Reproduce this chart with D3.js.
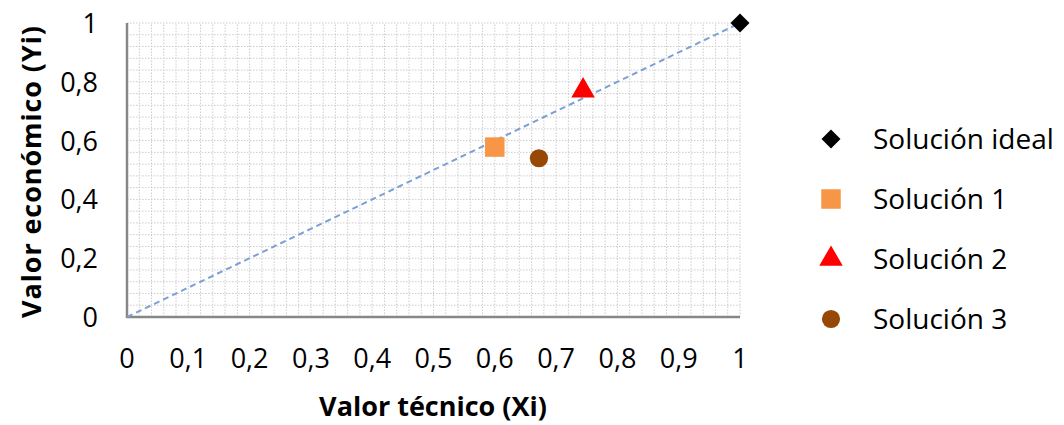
<!DOCTYPE html>
<html>
<head>
<meta charset="utf-8">
<script src="https://cdn.jsdelivr.net/npm/d3@7"></script>
<style>
  body { margin: 0; background: #fff; }
  svg { display: block; font-family: "Open Sans", sans-serif; }
</style>
</head>
<body>
<script>
// data
const series = ["Solución ideal", "Solución 1", "Solución 2", "Solución 3"];
const xValues = [1, 0.6, 0.744, 0.672];
const yValues = [1, 0.578, 0.77, 0.54];
const colors = ["#000000", "#F79646", "#FF0000", "#974706"];
const shapes = [d3.symbolSquare, d3.symbolSquare, d3.symbolTriangle, d3.symbolCircle];
const xTicks = [0, 0.1, 0.2, 0.3, 0.4, 0.5, 0.6, 0.7, 0.8, 0.9, 1];
const yTicks = [0, 0.2, 0.4, 0.6, 0.8, 1];
const lineX = [0, 1];
const lineY = [0, 1];

const W = 1064, H = 425;
const svg = d3.select("body").append("svg").attr("width", W).attr("height", H);

const x = d3.scaleLinear().domain([0, 1]).range([127, 740]);
const y = d3.scaleLinear().domain([0, 1]).range([317, 23]);

const loc = d3.formatLocale({decimal: ",", thousands: ".", grouping: [3], currency: ["", "€"]});
const fmt = d => loc.format("~g")(d);

/* grid (minor cells) */
const gx = d3.range(0, 1.0001, 0.02);
const gy = d3.range(0, 1.0001, 0.04);
svg.append("g").selectAll("line").data(gx).enter().append("line")
  .attr("x1", d => x(d)).attr("x2", d => x(d)).attr("y1", y(0)).attr("y2", y(1))
  .attr("stroke", "#cccccc").attr("stroke-width", 1).attr("stroke-dasharray", "1.5,1.5");
svg.append("g").selectAll("line").data(gy).enter().append("line")
  .attr("y1", d => y(d)).attr("y2", d => y(d)).attr("x1", x(0)).attr("x2", x(1))
  .attr("stroke", "#cccccc").attr("stroke-width", 1).attr("stroke-dasharray", "1.5,1.5");

/* axes lines */
svg.append("line").attr("x1", x(0)).attr("x2", x(0)).attr("y1", y(1)).attr("y2", y(0) + 1)
  .attr("stroke", "#878787").attr("stroke-width", 2.5);
svg.append("line").attr("x1", x(0) - 1).attr("x2", x(1)).attr("y1", y(0)).attr("y2", y(0))
  .attr("stroke", "#878787").attr("stroke-width", 2.5);

/* tick labels */
svg.append("g").selectAll("text").data(xTicks).enter().append("text")
  .attr("x", d => x(d)).attr("y", 368).attr("text-anchor", "middle")
  .attr("font-size", 27).attr("fill", "#000").text(fmt);
svg.append("g").selectAll("text").data(yTicks).enter().append("text")
  .attr("x", 98).attr("y", d => y(d) + 10).attr("text-anchor", "end")
  .attr("font-size", 27).attr("fill", "#000").text(fmt);

/* axis titles */
svg.append("text").attr("x", 433).attr("y", 416).attr("text-anchor", "middle")
  .attr("font-size", 27).attr("font-weight", "bold").text("Valor técnico (Xi)");
svg.append("text").attr("transform", "translate(41,172) rotate(-90)").attr("text-anchor", "middle")
  .attr("font-size", 27).attr("font-weight", "bold")
  .attr("textLength", 292).attr("lengthAdjust", "spacing").text("Valor económico (Yi)");

/* dashed reference line */
svg.append("path").datum(lineX.map((d, i) => [d, lineY[i]]))
  .attr("d", d3.line().x(d => x(d[0])).y(d => y(d[1])))
  .attr("stroke", "#7BA0D4").attr("stroke-width", 2).attr("stroke-dasharray", "6,4").attr("fill", "none");

/* points (diamond = rotated square) */
const sizes = [180, 380, 240, 260];
const rot = [45, 0, 0, 0];
svg.append("g").selectAll("path").data(series).enter().append("path")
  .attr("transform", (d, i) => `translate(${x(xValues[i])},${y(yValues[i])}) rotate(${rot[i]})`)
  .attr("d", (d, i) => d3.symbol().type(shapes[i]).size(sizes[i])())
  .attr("fill", (d, i) => colors[i]);

/* legend */
const lg = svg.append("g").attr("transform", "translate(831,139)");
const row = lg.selectAll("g").data(series).enter().append("g")
  .attr("transform", (d, i) => `translate(0,${i * 60})`);
row.append("path").attr("d", (d, i) => d3.symbol().type(shapes[i]).size(sizes[i])())
  .attr("transform", (d, i) => `rotate(${rot[i]})`)
  .attr("fill", (d, i) => colors[i]);
row.append("text").attr("x", 42).attr("y", 10).attr("font-size", 28).text(d => d);
</script>
</body>
</html>
